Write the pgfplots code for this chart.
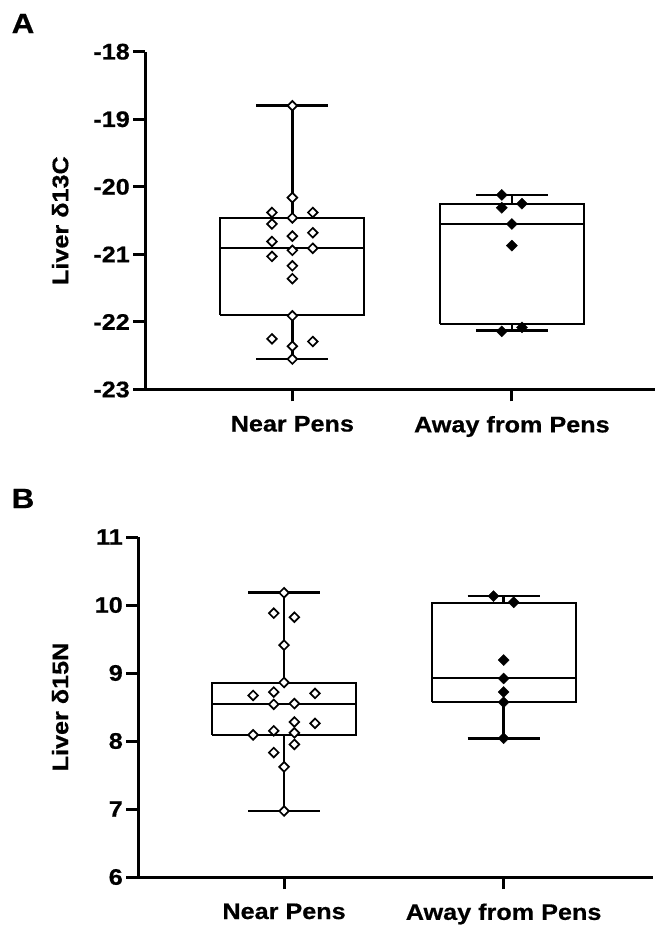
\documentclass[border=0pt]{standalone}
\usepackage{fontspec}
\setmainfont[FakeStretch=1.12, BoldFeatures={FakeBold=0.6}]{Liberation Sans}
\usepackage{pgfplots}
\pgfplotsset{compat=1.18}
\newcommand\lbl{\fontsize{22.5}{26}\selectfont\bfseries}
\pgfplotsset{
  panel/.style={
    scale only axis,
    axis x line=bottom, axis y line=left,
    axis line style={line width=3pt, -},
    tick align=outside,
    major tick length=12pt,
    every tick/.style={line width=3pt, black},
    xtick={1,2}, xticklabels={Near Pens, Away from Pens},
    tick label style={font=\lbl},
    /pgf/number format/assume math mode=true,
    clip=false,
    xticklabel style={yshift=-11pt},
  },
  bx/.style={black, line width=2pt, solid, mark=none, line join=miter},
  wk/.style={black, line width=2.6pt, solid, mark=none},
  openpt/.style={only marks, mark=square*, mark size=3.4pt, mark options={rotate=45, fill=white, draw=black, line width=1.7pt}},
  fillpt/.style={only marks, mark=square*, mark size=3.9pt, mark options={rotate=45, fill=black, draw=black, line width=0.4pt}},
}
\begin{document}
\begin{tikzpicture}[x=1pt,y=1pt]
\useasboundingbox (0,0) rectangle (655,926);
\node[font=\fontsize{28}{32}\selectfont\bfseries] at (23,902.5) {A};
\node[font=\fontsize{28}{32}\selectfont\bfseries] at (23,427.5) {B};
% Panel A
\begin{axis}[panel,
  at={(145.3pt,536.5pt)}, anchor=south west,
  width=509.7pt, height=337.8pt,
  xmin=0.330, xmax=2.652, ymin=-23, ymax=-18,
  ytick={-23,-22,-21,-20,-19,-18},
  ylabel={\lbl Liver δ13C},
  ylabel style={at={(axis description cs:-0.167,0.5)}, anchor=center},
]
% Near Pens box: whiskers -22.55 / -18.80, quartiles -21.89 / -20.46, median -20.91
\addplot[wk] coordinates {(1,-22.55) (1,-21.89)};
\addplot[wk] coordinates {(1,-20.46) (1,-18.80)};
\addplot[wk] coordinates {(0.836,-22.55) (1.164,-22.55)};
\addplot[wk] coordinates {(0.836,-18.80) (1.164,-18.80)};
\addplot[bx] coordinates {(0.672,-21.89) (1.328,-21.89) (1.328,-20.46) (0.672,-20.46) (0.672,-21.89)};
\addplot[bx] coordinates {(0.672,-20.91) (1.328,-20.91)};
% Away from Pens box: whiskers -22.13 / -20.12, quartiles -22.03 / -20.26, median -20.55
\addplot[wk] coordinates {(2,-22.13) (2,-22.03)};
\addplot[wk] coordinates {(2,-20.26) (2,-20.12)};
\addplot[wk] coordinates {(1.836,-22.13) (2.164,-22.13)};
\addplot[wk] coordinates {(1.836,-20.12) (2.164,-20.12)};
\addplot[bx] coordinates {(1.672,-22.03) (2.328,-22.03) (2.328,-20.26) (1.672,-20.26) (1.672,-22.03)};
\addplot[bx] coordinates {(1.672,-20.55) (2.328,-20.55)};
\addplot[openpt] coordinates {
(1,-18.80) (1,-20.16) (0.907,-20.38) (1.093,-20.38) (1,-20.46) (0.907,-20.55)
(1,-20.73) (1.093,-20.68) (0.907,-20.81) (1,-20.94) (1.093,-20.91) (0.907,-21.03)
(1,-21.17) (1,-21.36) (1,-21.91) (0.907,-22.25) (1.093,-22.29) (1,-22.36) (1,-22.55)};
\addplot[fillpt] coordinates {
(1.954,-20.12) (1.954,-20.31) (2.046,-20.25) (2,-20.55) (2,-20.87) (1.954,-22.14) (2.046,-22.08)};
\end{axis}
% Panel B
\begin{axis}[panel,
  at={(138.3pt,49pt)}, anchor=south west,
  width=514.4pt, height=340pt,
  xmin=0.336, xmax=2.679, ymin=6, ymax=11,
  ytick={6,7,8,9,10,11},
  ylabel={\lbl Liver δ15N},
  ylabel style={at={(axis description cs:-0.152,0.5)}, anchor=center},
]
% Near Pens box: whiskers 6.97 / 10.18, quartiles 8.09 / 8.85, median 8.54
\addplot[wk] coordinates {(1,6.97) (1,8.09)};
\addplot[wk] coordinates {(1,8.85) (1,10.18)};
\addplot[wk] coordinates {(0.836,6.97) (1.164,6.97)};
\addplot[wk] coordinates {(0.836,10.18) (1.164,10.18)};
\addplot[bx] coordinates {(0.672,8.09) (1.328,8.09) (1.328,8.85) (0.672,8.85) (0.672,8.09)};
\addplot[bx] coordinates {(0.672,8.54) (1.328,8.54)};
% Away from Pens box: whiskers 8.04 / 10.13, quartiles 8.58 / 10.03, median 8.92
\addplot[wk] coordinates {(2,8.04) (2,8.58)};
\addplot[wk] coordinates {(2,10.03) (2,10.13)};
\addplot[wk] coordinates {(1.836,8.04) (2.164,8.04)};
\addplot[wk] coordinates {(1.836,10.13) (2.164,10.13)};
\addplot[bx] coordinates {(1.672,8.58) (2.328,8.58) (2.328,10.03) (1.672,10.03) (1.672,8.58)};
\addplot[bx] coordinates {(1.672,8.92) (2.328,8.92)};
\addplot[openpt] coordinates {
(1,10.18) (0.953,9.88) (1.047,9.82) (1,9.41) (1,8.86) (0.859,8.67) (0.953,8.72)
(1.141,8.70) (0.953,8.54) (1.047,8.55) (1.047,8.28) (1.141,8.26) (0.953,8.15)
(1.047,8.12) (0.859,8.09) (1.047,7.95) (0.953,7.83) (1,7.62) (1,6.97)};
\addplot[fillpt] coordinates {
(1.954,10.13) (2.046,10.04) (2,9.19) (2,8.92) (2,8.72) (2,8.57) (2,8.04)};
\end{axis}
\end{tikzpicture}
\end{document}
